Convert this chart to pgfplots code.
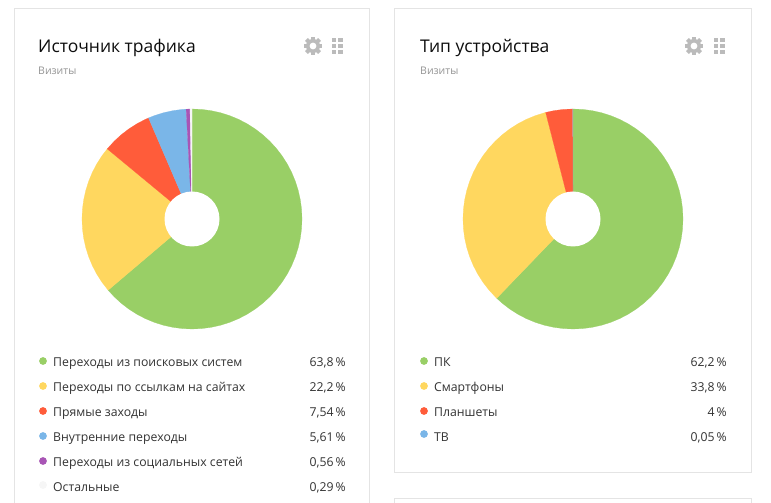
\documentclass[border=0pt]{standalone}
\usepackage{fontspec}
\setmainfont{Open Sans}
\usepackage{pgfplots}
\pgfplotsset{compat=1.18}
\definecolor{cgreen}{HTML}{99CF66}
\definecolor{cyellow}{HTML}{FFD75F}
\definecolor{cred}{HTML}{FF5C3A}
\definecolor{cblue}{HTML}{7AB6E8}
\definecolor{cpurple}{HTML}{A855B5}
\definecolor{cother}{HTML}{F6F6F6}
\definecolor{cframe}{HTML}{E4E4E4}
\definecolor{cicon}{HTML}{BBBBBB}
\newcommand{\ttl}[3]{\node[anchor=base west,inner sep=0pt,text=black!95,font=\fontsize{17.5}{20}\selectfont] at (axis cs:#1,#2-0.8) {#3};}
\newcommand{\sub}[3]{\node[anchor=base west,inner sep=0pt,text=black!42,font=\fontsize{10.5}{12}\selectfont] at (axis cs:#1,#2) {#3};}
\newcommand{\lab}[3]{\node[anchor=base west,inner sep=0pt,text=black!80,font=\fontsize{12.25}{14}\selectfont] at (axis cs:#1,#2-0.8) {#3};}
\newcommand{\val}[3]{\node[anchor=base east,inner sep=0pt,text=black!80,font=\fontsize{12.25}{14}\selectfont] at (axis cs:#1,#2-0.8) {#3\,\%};}
\newcommand{\gear}[2]{%
  \begin{scope}[shift={(#1pt,#2pt)}]
  \foreach \a in {0,45,...,315}{\fill[cicon,rotate=\a] (-2pt,6pt) rectangle (2pt,9.3pt);}
  \fill[cicon] (0,0) circle[radius=7pt];
  \fill[white] (0,0) circle[radius=3.4pt];
  \end{scope}}
\newcommand{\grid}[2]{%
  \begin{scope}[shift={(#1pt,#2pt)}]
  \foreach \i in {0,1}{\foreach \j in {0,1,2}{\fill[cicon] (\i*6.2pt,-\j*5.8pt) rectangle ++(4.3pt,-4.3pt);}}
  \end{scope}}
\pgfplotsset{pieaxis/.style={x=1pt,y=1pt,scale only axis,hide axis,xmin=-120,xmax=120,ymin=-120,ymax=120,anchor=center,clip=false},
  wedge/.style={draw=#1,line width=0.2pt,fill=#1,data cs=polar,forget plot}}
\begin{document}
\begin{tikzpicture}
\useasboundingbox (0,0) rectangle (771pt,503pt);
\fill[white] (0,0) rectangle (771pt,503pt);
\begin{axis}[at={(0,0)},anchor=south west,x=1pt,y=1pt,scale only axis,hide axis,xmin=0,xmax=771,ymin=0,ymax=503]
% cards (x, 503 - y in pixels)
\addplot[cframe,line width=1pt,forget plot] coordinates {(14,-2)(14,494)(369,494)(369,-2)};
\addplot[cframe,line width=1pt,forget plot] coordinates {(394,30)(394,494)(751,494)(751,30)(394,30)};
\addplot[cframe,line width=1pt,forget plot] coordinates {(394,-2)(394,4)(751,4)(751,-2)};
% legend dots, left card
\addplot[only marks,mark=*,mark size=3.6pt,cgreen,forget plot] coordinates {(43,142)};
\addplot[only marks,mark=*,mark size=3.6pt,cyellow,forget plot] coordinates {(43,117)};
\addplot[only marks,mark=*,mark size=3.6pt,cred,forget plot] coordinates {(43,92)};
\addplot[only marks,mark=*,mark size=3.6pt,cblue,forget plot] coordinates {(43,67)};
\addplot[only marks,mark=*,mark size=3.6pt,cpurple,forget plot] coordinates {(43,42)};
\addplot[only marks,mark=*,mark size=3.6pt,cother,forget plot] coordinates {(43,18)};
% legend dots, right card
\addplot[only marks,mark=*,mark size=3.6pt,cgreen,forget plot] coordinates {(424,142)};
\addplot[only marks,mark=*,mark size=3.6pt,cyellow,forget plot] coordinates {(424,117)};
\addplot[only marks,mark=*,mark size=3.6pt,cred,forget plot] coordinates {(424,92)};
\addplot[only marks,mark=*,mark size=3.6pt,cblue,forget plot] coordinates {(424,69)};
\ttl{38}{451}{Источник трафика}
\ttl{420}{451}{Тип устройства}
\sub{38}{428}{Визиты}
\sub{420}{428}{Визиты}
\lab{53}{137}{Переходы из поисковых систем}\val{346}{137}{63,8}
\lab{53}{112}{Переходы по ссылкам на сайтах}\val{346}{112}{22,2}
\lab{53}{87}{Прямые заходы}\val{346}{87}{7,54}
\lab{53}{62}{Внутренние переходы}\val{346}{62}{5,61}
\lab{53}{37}{Переходы из социальных сетей}\val{346}{37}{0,56}
\lab{53}{12}{Остальные}\val{346}{12}{0,29}
\lab{434}{137}{ПК}\val{727}{137}{62,2}
\lab{434}{112}{Смартфоны}\val{727}{112}{33,8}
\lab{434}{87}{Планшеты}\val{727}{87}{4}
\lab{434}{62}{ТВ}\val{727}{62}{0,05}
\end{axis}
\gear{313}{457}
\gear{694}{457}
\grid{332}{465}
\grid{714}{465}
% left pie: 63.8, 22.2, 7.54, 5.61, 0.56, 0.29 percent, clockwise from the top
\begin{axis}[pieaxis,at={(192pt,284pt)}]
\addplot[wedge=cgreen] coordinates {(0,0)(90,110)(85,110)(80,110)(75,110)(70,110)(65,110)(60,110)(55,110)(50,110)(45,110)(40,110)(35,110)(30,110)(25,110)(20,110)(15,110)(10,110)(5,110)(0,110)(-5,110)(-10,110)(-15,110)(-20,110)(-25,110)(-30,110)(-35,110)(-40,110)(-45,110)(-50,110)(-55,110)(-60,110)(-65,110)(-70,110)(-75,110)(-80,110)(-85,110)(-90,110)(-95,110)(-100,110)(-105,110)(-110,110)(-115,110)(-120,110)(-125,110)(-130,110)(-135,110)(-139.68,110)(0,0)};
\addplot[wedge=cyellow] coordinates {(0,0)(-139.68,110)(-145,110)(-150,110)(-155,110)(-160,110)(-165,110)(-170,110)(-175,110)(-180,110)(-185,110)(-190,110)(-195,110)(-200,110)(-205,110)(-210,110)(-215,110)(-219.6,110)(0,0)};
\addplot[wedge=cred] coordinates {(0,0)(-219.6,110)(-225,110)(-230,110)(-235,110)(-240,110)(-245,110)(-246.74,110)(0,0)};
\addplot[wedge=cblue] coordinates {(0,0)(-246.74,110)(-250,110)(-255,110)(-260,110)(-265,110)(-266.94,110)(0,0)};
\addplot[wedge=cpurple] coordinates {(0,0)(-266.94,110)(-268.96,110)(0,0)};
\addplot[wedge=cother] coordinates {(0,0)(-268.96,110)(-270,110)(0,0)};
\fill[white] (axis cs:0,0) circle[radius=27.5pt];
\end{axis}
% right pie: 62.2, 33.8, 4, 0.05 percent
\begin{axis}[pieaxis,at={(573pt,284pt)}]
\addplot[wedge=cgreen] coordinates {(0,0)(90,110)(85,110)(80,110)(75,110)(70,110)(65,110)(60,110)(55,110)(50,110)(45,110)(40,110)(35,110)(30,110)(25,110)(20,110)(15,110)(10,110)(5,110)(0,110)(-5,110)(-10,110)(-15,110)(-20,110)(-25,110)(-30,110)(-35,110)(-40,110)(-45,110)(-50,110)(-55,110)(-60,110)(-65,110)(-70,110)(-75,110)(-80,110)(-85,110)(-90,110)(-95,110)(-100,110)(-105,110)(-110,110)(-115,110)(-120,110)(-125,110)(-130,110)(-133.92,110)(0,0)};
\addplot[wedge=cyellow] coordinates {(0,0)(-133.92,110)(-135,110)(-140,110)(-145,110)(-150,110)(-155,110)(-160,110)(-165,110)(-170,110)(-175,110)(-180,110)(-185,110)(-190,110)(-195,110)(-200,110)(-205,110)(-210,110)(-215,110)(-220,110)(-225,110)(-230,110)(-235,110)(-240,110)(-245,110)(-250,110)(-255,110)(-255.6,110)(0,0)};
\addplot[wedge=cred] coordinates {(0,0)(-255.6,110)(-260,110)(-265,110)(-269.82,110)(0,0)};
\addplot[wedge=cblue,draw=none] coordinates {(0,0)(-269.82,110)(-270,110)(0,0)};
\fill[white] (axis cs:0,0) circle[radius=27.5pt];
\end{axis}
\end{tikzpicture}
\end{document}
